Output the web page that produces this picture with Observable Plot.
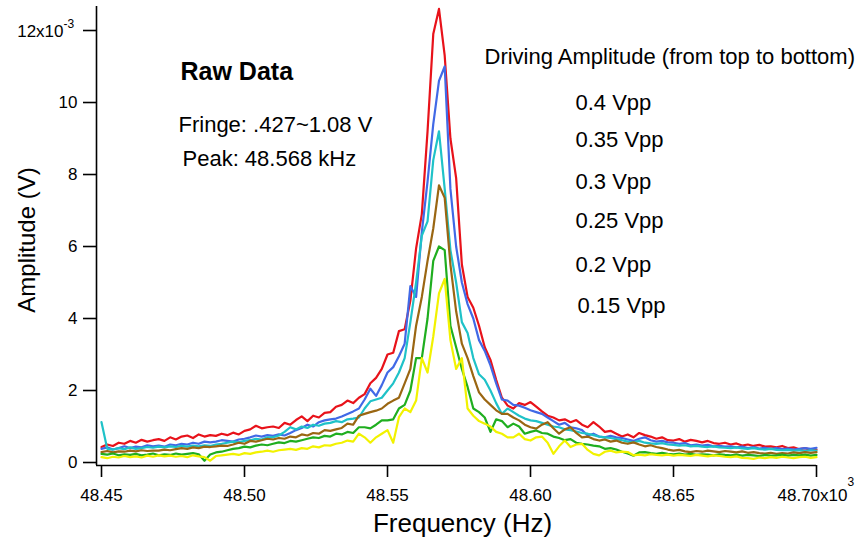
<!DOCTYPE html>
<html><head><meta charset="utf-8">
<script src="https://cdn.jsdelivr.net/npm/d3@7"></script>
<script src="https://cdn.jsdelivr.net/npm/@observablehq/plot@0.6"></script>
<style>
body{margin:0;background:#fff;}
#chart svg{font-family:"Liberation Sans",Arial,Helvetica,sans-serif;}
</style>
</head><body><div id="chart"></div>
<script>
// Frequency (x10^3 Hz)
const freq = [
48.450,48.452,48.454,48.456,48.458,48.460,48.462,48.464,48.466,48.468,
48.470,48.472,48.474,48.476,48.478,48.480,48.482,48.484,48.486,48.488,
48.490,48.492,48.494,48.496,48.498,48.500,48.502,48.504,48.506,48.508,
48.510,48.512,48.514,48.516,48.518,48.520,48.522,48.524,48.526,48.528,
48.530,48.532,48.534,48.536,48.538,48.540,48.542,48.544,48.546,48.548,
48.550,48.552,48.554,48.556,48.558,48.560,48.562,48.564,48.566,48.568,
48.570,48.572,48.574,48.576,48.578,48.580,48.582,48.584,48.586,48.588,
48.590,48.592,48.594,48.596,48.598,48.600,48.602,48.604,48.606,48.608,
48.610,48.612,48.614,48.616,48.618,48.620,48.622,48.624,48.626,48.628,
48.630,48.632,48.634,48.636,48.638,48.640,48.642,48.644,48.646,48.648,
48.650,48.652,48.654,48.656,48.658,48.660,48.662,48.664,48.666,48.668,
48.670,48.672,48.674,48.676,48.678,48.680,48.682,48.684,48.686,48.688,
48.690,48.692,48.694,48.696,48.698,48.700];

// Amplitude (x10^-3 V), one array per driving amplitude
const amp040 = [
0.43,0.50,0.46,0.55,0.52,0.60,0.55,0.63,0.58,0.62,
0.65,0.60,0.70,0.64,0.72,0.75,0.68,0.78,0.72,0.76,
0.74,0.80,0.76,0.83,0.78,0.88,0.92,1.02,0.95,0.98,
1.00,0.96,1.10,1.05,1.18,1.28,1.15,1.30,1.25,1.38,
1.40,1.55,1.60,1.72,1.65,1.80,1.90,2.20,2.35,2.60,
3.00,3.05,3.65,3.70,4.50,5.95,6.90,9.20,11.90,12.60,
11.30,9.00,7.90,5.50,4.60,4.30,3.80,3.20,2.85,2.30,
1.80,1.58,1.50,1.65,1.60,1.68,1.55,1.42,1.30,1.25,
1.17,1.20,1.12,1.18,1.05,0.98,1.12,1.00,0.85,0.88,
0.80,0.72,0.78,0.70,0.82,0.76,0.72,0.66,0.70,0.62,
0.61,0.65,0.58,0.63,0.60,0.56,0.60,0.54,0.52,0.55,
0.50,0.53,0.47,0.50,0.46,0.49,0.44,0.45,0.42,0.46,
0.40,0.42,0.37,0.40,0.35,0.36];
const amp035 = [
0.38,0.42,0.36,0.40,0.45,0.40,0.44,0.42,0.48,0.45,
0.47,0.44,0.50,0.48,0.52,0.50,0.55,0.52,0.58,0.56,
0.58,0.62,0.60,0.58,0.64,0.66,0.70,0.75,0.72,0.76,
0.74,0.78,0.75,0.82,0.90,0.96,1.05,1.00,1.12,1.17,
1.20,1.22,1.28,1.35,1.42,1.50,1.75,2.05,1.85,2.15,
2.50,2.65,2.95,3.30,4.90,4.60,6.40,7.80,9.40,10.60,
11.00,7.60,6.00,5.00,4.40,4.00,3.40,3.10,2.70,2.20,
1.75,1.72,1.60,1.58,1.52,1.45,1.40,1.35,1.25,1.15,
1.05,1.10,0.98,0.95,0.90,0.75,0.80,0.72,0.70,0.74,
0.70,0.68,0.64,0.60,0.66,0.70,0.62,0.58,0.60,0.56,
0.55,0.52,0.54,0.48,0.50,0.47,0.49,0.45,0.46,0.44,
0.45,0.42,0.44,0.40,0.43,0.39,0.41,0.38,0.40,0.37,
0.39,0.36,0.38,0.40,0.38,0.41];
const amp030 = [
1.12,0.38,0.36,0.40,0.37,0.42,0.38,0.40,0.43,0.41,
0.44,0.42,0.45,0.43,0.46,0.44,0.47,0.45,0.48,0.46,
0.50,0.52,0.55,0.58,0.56,0.60,0.62,0.66,0.64,0.70,
0.70,0.75,0.85,0.98,0.92,1.00,0.96,1.05,1.02,1.08,
1.10,1.15,1.12,1.20,1.22,1.25,1.50,1.70,1.75,1.80,
2.00,2.20,2.50,2.90,3.90,5.00,6.30,6.70,8.40,9.20,
7.60,5.90,5.00,3.90,3.60,2.90,2.45,2.30,2.00,1.65,
1.35,1.50,1.40,1.30,1.22,1.17,1.15,1.10,1.05,1.00,
0.98,0.92,0.90,0.86,0.82,0.80,0.76,0.72,0.70,0.68,
0.65,0.62,0.58,0.56,0.60,0.55,0.53,0.52,0.54,0.50,
0.49,0.47,0.48,0.45,0.46,0.44,0.43,0.45,0.42,0.41,
0.40,0.42,0.39,0.38,0.40,0.37,0.36,0.38,0.35,0.34,
0.35,0.33,0.34,0.32,0.34,0.33];
const amp025 = [
0.29,0.32,0.28,0.31,0.30,0.33,0.31,0.34,0.32,0.33,
0.33,0.36,0.34,0.37,0.40,0.38,0.42,0.40,0.44,0.43,
0.45,0.47,0.46,0.50,0.55,0.52,0.60,0.58,0.62,0.66,
0.64,0.68,0.66,0.72,0.70,0.78,0.75,0.82,0.80,0.90,
0.88,0.92,0.96,1.08,1.05,1.30,1.35,1.40,1.44,1.50,
1.63,1.72,1.80,2.20,2.60,3.80,4.60,5.60,6.50,7.70,
7.35,5.50,4.20,3.30,2.90,2.40,1.95,1.75,1.60,1.45,
1.35,1.35,1.25,1.17,1.05,0.98,0.94,1.05,1.12,0.95,
0.80,0.92,0.98,0.82,0.70,0.72,0.65,0.61,0.64,0.58,
0.61,0.55,0.52,0.56,0.50,0.45,0.48,0.43,0.40,0.36,
0.33,0.35,0.31,0.29,0.32,0.30,0.33,0.31,0.29,0.32,
0.30,0.28,0.31,0.27,0.29,0.26,0.25,0.27,0.24,0.26,
0.25,0.28,0.26,0.29,0.27,0.29];
const amp020 = [
0.24,0.22,0.25,0.20,0.23,0.21,0.24,0.20,0.22,0.25,
0.20,0.23,0.21,0.25,0.22,0.24,0.26,0.23,0.05,0.22,
0.28,0.30,0.34,0.38,0.40,0.44,0.42,0.47,0.50,0.48,
0.52,0.56,0.54,0.60,0.58,0.62,0.66,0.70,0.68,0.74,
0.72,0.80,0.78,0.85,0.82,0.98,0.98,0.95,1.05,1.17,
1.17,1.20,1.50,1.60,2.00,2.90,2.90,4.00,5.60,6.00,
5.90,3.80,3.20,2.60,2.10,1.50,1.40,1.25,0.85,1.20,
1.15,0.98,1.08,1.00,0.80,0.85,0.89,0.82,0.80,0.72,
0.68,0.62,0.65,0.55,0.52,0.50,0.47,0.45,0.38,0.40,
0.36,0.30,0.25,0.19,0.28,0.29,0.26,0.24,0.27,0.24,
0.23,0.25,0.22,0.24,0.21,0.23,0.22,0.20,0.23,0.21,
0.20,0.22,0.19,0.21,0.20,0.18,0.21,0.19,0.20,0.22,
0.19,0.21,0.20,0.22,0.19,0.21];
const amp015 = [
0.15,0.12,0.16,0.14,0.18,0.15,0.17,0.14,0.19,0.16,
0.20,0.17,0.19,0.16,0.18,0.15,0.20,0.17,0.15,0.05,
0.18,0.20,0.22,0.24,0.21,0.26,0.24,0.28,0.30,0.33,
0.30,0.34,0.36,0.38,0.35,0.40,0.38,0.45,0.42,0.48,
0.47,0.52,0.55,0.61,0.58,0.80,0.70,0.55,0.70,0.80,
0.90,0.55,1.26,1.50,1.40,1.72,2.90,2.50,3.50,4.70,
5.10,3.40,2.60,2.90,1.50,1.30,1.15,1.08,1.00,0.85,
0.80,0.70,0.70,0.80,0.65,0.61,0.70,0.72,0.55,0.24,
0.45,0.61,0.43,0.50,0.52,0.35,0.24,0.20,0.30,0.33,
0.28,0.30,0.29,0.20,0.22,0.20,0.23,0.21,0.20,0.22,
0.19,0.21,0.20,0.18,0.21,0.19,0.17,0.20,0.18,0.16,
0.15,0.17,0.13,0.12,0.10,0.14,0.12,0.15,0.13,0.16,
0.14,0.12,0.15,0.16,0.13,0.15];

const seriesNames = ["0.4 Vpp","0.35 Vpp","0.3 Vpp","0.25 Vpp","0.2 Vpp","0.15 Vpp"];
const seriesValues = [amp040, amp035, amp030, amp025, amp020, amp015];
const seriesColors = ["#e8121a","#4169e6","#1fc2c8","#9a6612","#1fae1f","#f2f200"];

const xTicks = [48.45, 48.50, 48.55, 48.60, 48.65, 48.70];
const yTicks = [0, 2, 4, 6, 8, 10, 12];
const xDomain = [48.44825, 48.70];
const yDomain = [-0.083, 12.667];

const titleText = "Raw Data";
const fringeText = "Fringe: .427~1.08 V";
const peakText = "Peak: 48.568 kHz";
const legendTitle = "Driving Amplitude (from top to bottom)";
const xLabel = "Frequency (Hz)";
const yLabel = "Amplitude (V)";

const rows = [];
seriesValues.forEach((vals, s) => vals.forEach((v, i) => rows.push({series: seriesNames[s], f: freq[i], a: v})));

const legendDy = [96, 133.5, 175, 214, 258, 299.5];
const legendDx = [479, 479, 479, 479, 479, 481];

const ann = (txt, dx, dy, size, extra = {}) =>
  Plot.text([txt], {frameAnchor: "top-left", textAnchor: "start", lineAnchor: "middle", dx, dy, fontSize: size, fill: "#000", ...extra});

const marks = [
  Plot.line(rows, {x: "f", y: "a", z: "series", stroke: "series", strokeWidth: 2.2, strokeLinejoin: "round"}),
  Plot.ruleX([xDomain[0]], {stroke: "#000", strokeWidth: 1.6}),
  Plot.ruleY([yDomain[0]], {stroke: "#000", strokeWidth: 1.6}),
  Plot.axisX({ticks: xTicks, tickSize: 12, tickPadding: 11, fontSize: 17, strokeWidth: 1.6,
    tickFormat: d => Math.abs(d - 48.70) < 1e-9 ? "" : d.toFixed(2), label: null}),
  Plot.axisY({ticks: yTicks, tickSize: 13, tickPadding: 6, fontSize: 17, strokeWidth: 1.6,
    tickFormat: d => d === 12 ? "" : String(d), label: null}),
  Plot.text([48.70], {x: d => d, frameAnchor: "bottom", text: () => "48.70x10", lineAnchor: "top", dy: 23, dx: -4, fontSize: 17, fill: "#000"}),
  Plot.text([48.70], {x: d => d, frameAnchor: "bottom", text: () => "3", textAnchor: "start", lineAnchor: "top", dy: 12, dx: 31, fontSize: 12, fill: "#000"}),
  Plot.text([12], {y: d => d, frameAnchor: "left", text: () => "12x10", textAnchor: "end", lineAnchor: "middle", dx: -33, dy: 1, fontSize: 17, fill: "#000"}),
  Plot.text([12], {y: d => d, frameAnchor: "left", text: () => "-3", textAnchor: "start", lineAnchor: "middle", dx: -33, dy: -6, fontSize: 12, fill: "#000"}),
  Plot.text([xLabel], {frameAnchor: "bottom", textAnchor: "middle", lineAnchor: "middle", dx: 6, dy: 58, fontSize: 26, fill: "#000"}),
  Plot.text([yLabel], {frameAnchor: "left", textAnchor: "middle", lineAnchor: "middle", dx: -69, dy: 4, rotate: -90, fontSize: 24, fill: "#000"}),
  ann(titleText, 84, 65, 25, {fontWeight: "bold"}),
  ann(fringeText, 82, 118, 22),
  ann(peakText, 86, 152, 22),
  ann(legendTitle, 388, 50, 22)
];
seriesNames.forEach((name, k) => marks.push(ann(name, legendDx[k], legendDy[k], 22)));

const chart = Plot.plot({
  width: 863, height: 540,
  marginLeft: 96, marginRight: 47, marginTop: 6, marginBottom: 75,
  x: {domain: xDomain},
  y: {domain: yDomain},
  color: {domain: seriesNames, range: seriesColors},
  style: {fontFamily: "'Liberation Sans', Arial, sans-serif", fontSize: "17px", color: "#000", background: "#fff", overflow: "visible"},
  marks
});
document.getElementById("chart").appendChild(chart);
</script>
</body></html>
